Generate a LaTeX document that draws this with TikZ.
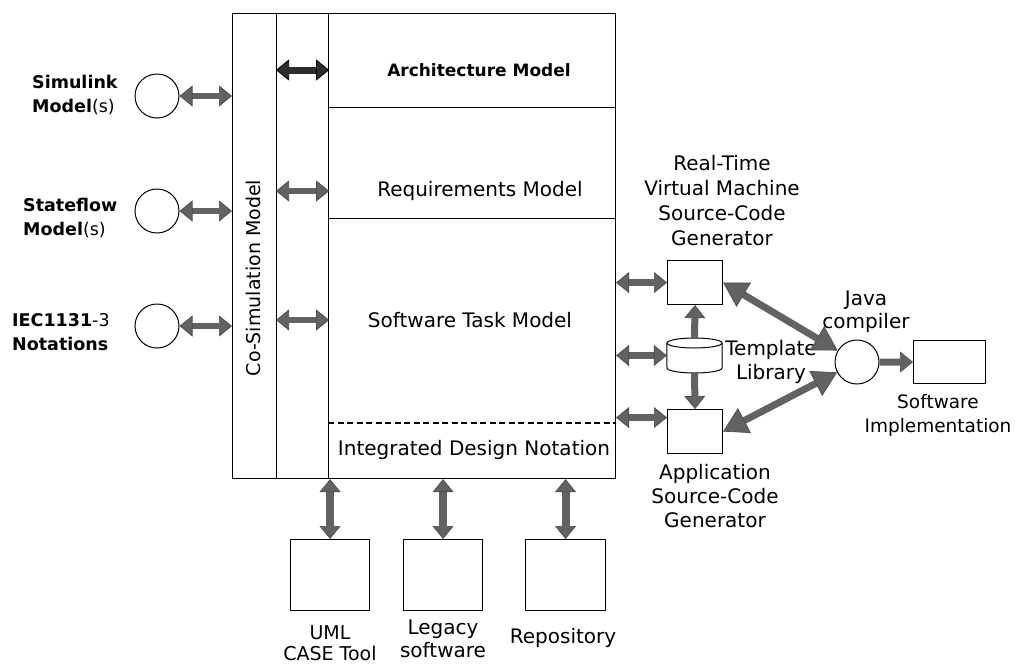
\documentclass[tikz,border=0pt]{standalone}
\usepackage{fontspec}
\setmainfont{DejaVu Sans}
\usetikzlibrary{arrows.meta,calc}
\definecolor{arrgray}{RGB}{98,98,98}
\definecolor{arrdark}{RGB}{45,45,45}
\begin{document}
\begin{tikzpicture}[x=1pt,y=-1pt,
  box/.style={draw,line width=1.1pt,inner sep=0pt,fill=white},
  lbl/.style={font=\fontsize{20}{25}\selectfont,align=center,inner sep=0pt},
  lbls/.style={font=\fontsize{17.5}{24}\selectfont,align=left,inner sep=0pt,anchor=west},
  hA/.tip={Triangle[length=13pt,width=21pt,line width=0.7pt,color=black!70,fill=arrgray]},
  hK/.tip={Triangle[length=13pt,width=21pt,line width=0.7pt,color=black,fill=arrdark]},
  hB/.tip={Triangle[length=24pt,width=28pt,line width=0.7pt,color=black!70,fill=arrgray]},
  dbl/.style={draw=arrgray,line width=6.5pt,arrows={hA-hA}},
  dblk/.style={draw=arrdark,line width=7pt,arrows={hK-hK}},
  dblb/.style={draw=arrgray,line width=7pt,arrows={hB-hB}},
  sgl/.style={draw=arrgray,line width=7pt,arrows={-hA}},
]
\useasboundingbox (0,0) rectangle (1017,667);

% main block
\node[box,minimum width=44pt,minimum height=465pt,anchor=north west] (cosim) at (232,13) {};
\node[box,minimum width=52pt,minimum height=465pt,anchor=north west] (col2) at (276,13) {};
\node[box,minimum width=287pt,minimum height=94pt,anchor=north west] (arch) at (328,13) {};
\node[box,minimum width=287pt,minimum height=111pt,anchor=north west] (req) at (328,107) {};
\node[box,minimum width=287pt,minimum height=260pt,anchor=north west] (sw) at (328,218) {};
\node[minimum width=287pt,minimum height=55pt,inner sep=0pt,anchor=north west] (idn) at (328,423) {};
\draw[line width=1.1pt,dash pattern=on 6pt off 3.5pt] (idn.north west) -- (idn.north east);

\node[lbl,font=\fontsize{19}{24}\selectfont,rotate=90] (cosiml) at (253,278) {Co-Simulation Model};
\node[lbl,font=\fontsize{17}{22}\selectfont\bfseries] (archl) at (479,70) {Architecture Model};
\node[lbl] (reql) at (480,191) {Requirements Model};
\node[lbl] (swl) at (470,320) {Software Task Model};
\node[lbl] (idnl) at (474,450) {Integrated Design Notation};

% left inputs
\node[circle,draw,line width=1pt,minimum size=44pt,inner sep=0pt] (sim) at (157,96) {};
\node[circle,draw,line width=1pt,minimum size=44pt,inner sep=0pt] (sf) at (157,211) {};
\node[circle,draw,line width=1pt,minimum size=44pt,inner sep=0pt] (iec) at (157,326) {};
\node[lbls] (siml) at (32,95) {\textbf{Simulink}\\\textbf{Model}(s)};
\node[lbls] (sfl) at (23,218) {\textbf{Stateflow}\\\textbf{Model}(s)};
\node[lbls] (iecl) at (12,332) {\textbf{IEC1131}-3\\\textbf{Notations}};

\draw[dbl] (sim) -- (sim -| cosim.west);
\draw[dbl] (sf) -- (sf -| cosim.west);
\draw[dbl] (iec) -- (iec -| cosim.west);

\draw[dblk] (col2.west |- archl) -- (col2.east |- archl);
\draw[dbl] (col2.west |- reql) -- (col2.east |- reql);
\draw[dbl] (col2.west |- swl) -- (col2.east |- swl);

% right side
\node[box,minimum width=55pt,minimum height=44pt,anchor=north west] (rt) at (667,260) {};
\node[box,minimum width=55pt,minimum height=44pt,anchor=north west] (app) at (667,409) {};
\node[minimum width=55pt,minimum height=35pt,inner sep=0pt] (cyl) at (694.5,355.5) {};
\draw[line width=1pt,fill=white] (cyl.north west) ++(0,5) -- (667,368)
  arc[start angle=180,end angle=0,x radius=27.5,y radius=5] -- (722,343);
\draw[line width=1pt,fill=white] (694.5,343) ellipse[x radius=27.5,y radius=5];
\node[circle,draw,line width=1pt,minimum size=44pt,inner sep=0pt,fill=white] (java) at (857,362) {};
\node[box,minimum width=72pt,minimum height=43pt,anchor=north west] (impl) at (913,340) {};

\node[lbl] (rtl) at (722,201) {Real-Time\\Virtual Machine\\Source-Code\\Generator};
\node[lbl,font=\fontsize{20}{24}\selectfont] (tll) at (771,362) {Template\\Library};
\node[lbl,font=\fontsize{20}{23}\selectfont] (javal) at (866,312) {Java\\compiler};
\node[lbl,font=\fontsize{18.5}{24}\selectfont] (impll) at (938,415) {Software\\Implementation};
\node[lbl,font=\fontsize{20}{24}\selectfont] (appl) at (715,496) {Application\\Source-Code\\Generator};

\coordinate (appin) at ([yshift=14pt]app.west);
\draw[dbl] (sw.east |- rt) -- (rt.west);
\draw[dbl] (sw.east |- cyl) -- (cyl.west);
\draw[dbl] (sw.east |- appin) -- (appin);
\draw[sgl] (cyl.north) -- (rt.south);
\draw[sgl] (cyl.south) -- (app.north);
\draw[dblb] (rt.east) -- (java);
\draw[dblb] (app.east) -- (java);
\draw[sgl] (java) -- (impl);

% bottom tools
\node[box,minimum width=79pt,minimum height=71pt,anchor=north west] (uml) at (290,539) {};
\node[box,minimum width=79pt,minimum height=71pt,anchor=north west] (leg) at (403,539) {};
\node[box,minimum width=80pt,minimum height=71pt,anchor=north west] (repo) at (525,539) {};
\node[lbl,font=\fontsize{19}{21}\selectfont] (umll) at (330,643) {UML\\CASE Tool};
\node[lbl,font=\fontsize{20}{23}\selectfont] (legl) at (443,639) {Legacy\\software};
\node[lbl] (repol) at (563,638) {Repository};

\draw[dbl,line width=8pt] (uml.north) -- (uml.north |- sw.south);
\draw[dbl,line width=8pt] (leg.north) -- (leg.north |- sw.south);
\draw[dbl,line width=8pt] (repo.north) -- (repo.north |- sw.south);
\end{tikzpicture}
\end{document}
